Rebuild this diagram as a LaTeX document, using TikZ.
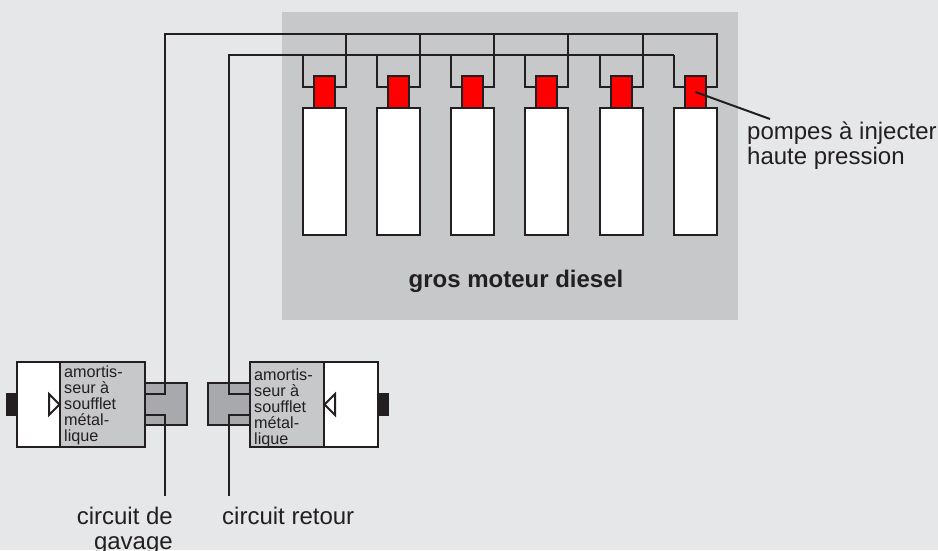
\documentclass[tikz,border=0pt]{standalone}
\usepackage{fontspec}
\setmainfont{Liberation Sans}
\usepackage{xcolor}
\usetikzlibrary{calc}
\definecolor{ink}{HTML}{231F20}
\definecolor{backg}{HTML}{E6E7E8}
\definecolor{motor}{HTML}{C7C8CA}
\definecolor{coupling}{HTML}{A7A9AC}
\definecolor{pumpred}{HTML}{FF0000}
\tikzset{
  pipe/.style={draw=ink, line width=2pt, line cap=butt, line join=miter},
  cyl/.style={draw=ink, fill=white, line width=2pt, minimum width=43pt, minimum height=127pt, inner sep=0pt},
  pump/.style={draw=ink, fill=pumpred, line width=2pt, minimum width=21pt, minimum height=32pt, inner sep=0pt},
  box/.style={draw=ink, line width=2pt, minimum height=85pt, inner sep=0pt},
  plug/.style={fill=ink, minimum width=11pt, minimum height=23pt, inner sep=0pt},
  coupl/.style={draw=ink, fill=coupling, line width=2pt, minimum width=42pt, minimum height=42pt, inner sep=0pt},
  valve/.style={draw=ink, fill=white, line width=2pt, line join=miter},
  lab/.style={text=ink, font=\fontsize{24}{25}\selectfont, inner sep=0pt},
  labs/.style={text=ink, font=\fontsize{16.2}{16}\selectfont, inner sep=0pt, align=left},
}
\begin{document}
\begin{tikzpicture}[x=1pt,y=-1pt]
  \useasboundingbox[fill=backg] (0,0) rectangle (938,550);
  \fill[motor] (282,12) rectangle (738,320);

  % cylindres et pompes
  \coordinate (railh) at (716.5,34);
  \coordinate (railb) at (674,55);
  \foreach \i/\x in {1/324.5,2/398.5,3/472.5,4/546.5,5/621.5,6/695.5}{
    \draw[pipe] ({\x-21.5},55) |- ({\x-10},87);
    \draw[pipe] ({\x+21.5},34) |- ({\x+10},87);
    \node[cyl] (cyl\i) at (\x,171.5) {};
    \node[pump] (pump\i) at (\x,92) {};
  }

  % amortisseurs
  \node[coupl] (couplg) at (166,404) {};
  \node[coupl] (couplr) at (229,404) {};
  \node[box,fill=white,minimum width=43pt] (whitel) at (38.5,404.5) {};
  \node[box,fill=motor,minimum width=85pt] (greyl) at (102.5,404.5) {};
  \node[box,fill=motor,minimum width=74pt] (greyr) at (287,404.5) {};
  \node[box,fill=white,minimum width=54pt] (whiter) at (351,404.5) {};
  \node[plug] (plugl) at (11.5,404.5) {};
  \node[plug] (plugr) at (383.5,404.5) {};
  \draw[valve] (49,394) -- (59.5,404.5) -- (49,415) -- cycle;
  \draw[valve] (335,394) -- (324.5,404.5) -- (335,415) -- cycle;

  % circuits
  \coordinate (gavage) at (165,496);
  \coordinate (retour) at (229,496);
  \draw[pipe] (greyl.east |- 0,394) -| (165,34) -- (railh) -- (716.5,87);
  \draw[pipe] (greyl.east |- 0,415) -| (gavage);
  \draw[pipe] (greyr.west |- 0,394) -| (229,55) -- (railb);
  \draw[pipe] (greyr.west |- 0,415) -| (retour);

  % textes
  \node[labs,anchor=north west] (txtl) at (64,365.5) {amortis-\\seur à\\soufflet\\métal-\\lique};
  \node[labs,anchor=north west] (txtr) at (254,369) {amortis-\\seur à\\soufflet\\métal-\\lique};
  \node[lab,font=\fontsize{24}{25}\selectfont\bfseries] (moteur) at (516,281) {gros moteur diesel};
  \node[lab,align=left,anchor=north west] (pompes) at (747,121.5) {pompes à injecter\\haute pression};
  \node[lab,align=right,anchor=north east] (circg) at (173,507) {circuit de\\gavage};
  \node[lab,anchor=north west] (circr) at (222,507) {circuit retour};

  \coordinate (lead) at (770,119);
  \draw[pipe] (pump6.center) -- (lead);
\end{tikzpicture}
\end{document}
